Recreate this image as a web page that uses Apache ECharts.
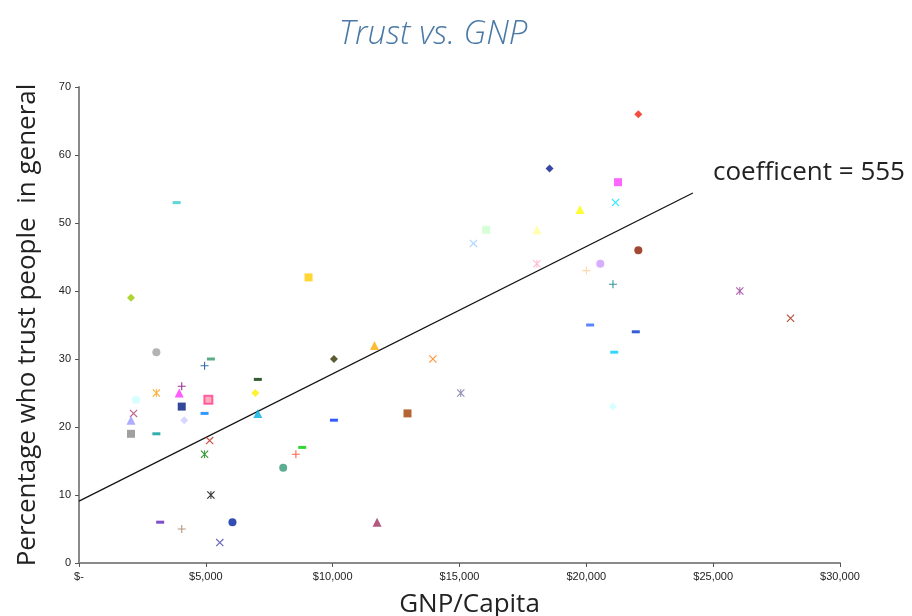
<!DOCTYPE html>
<html>
<head>
<meta charset="utf-8">
<title>Trust vs. GNP</title>
<script src="https://cdn.jsdelivr.net/npm/echarts@6/dist/echarts.min.js"></script>
<style>
  html, body { margin: 0; padding: 0; background: #fff; }
  #chart { width: 912px; height: 616px; }
</style>
</head>
<body>
<div id="chart"></div>
<script>
// GNP per capita ($) and trust (%) for each country marker
const gnp = [
  22050, 18550, 21250, 21150, 19750, 16050, 18050, 15550, 18050, 20000,
  20550, 22050, 21050, 20150, 21950, 21100, 21050, 26050, 28050,
  2050, 3850, 9050, 3050, 4950, 5200, 4050, 3050, 3950, 5100,
  7050, 6950, 2250, 4050, 4950, 7050, 2150, 2050, 4150, 2050,
  3050, 5150, 4950, 8550, 8800, 8050, 5200, 3200, 4050, 6050,
  5550, 10050, 10050, 11650, 13950, 15050, 12950, 11750
];
const trust = [
  66, 58, 56, 53, 52, 49, 49, 47, 44, 43,
  44, 46, 41, 35, 34, 31, 23, 40, 36,
  39, 53, 42, 31, 29, 30, 26, 25, 25, 24,
  27, 25, 24, 23, 22, 22, 22, 21, 21, 19,
  19, 18, 16, 16, 17, 14, 10, 6, 5, 6,
  3, 30, 21, 32, 30, 25, 22, 6
];
// marker shape and colour per point
const shapes = [
  'diamond', 'diamond', 'rect', 'x', 'triangle', 'rect', 'triangle', 'x', 'asterisk', 'plus',
  'circle', 'circle', 'plus', 'dash', 'dash', 'dash', 'diamond', 'asterisk', 'x',
  'diamond', 'dash', 'rect', 'circle', 'plus', 'dash', 'plus', 'asterisk', 'triangle', 'boxed',
  'dash', 'diamond', 'circle', 'rect', 'dash', 'triangle', 'x', 'triangle', 'diamond', 'rect',
  'dash', 'x', 'asterisk', 'plus', 'dash', 'circle', 'asterisk', 'dash', 'plus', 'circle',
  'x', 'diamond', 'dash', 'triangle', 'x', 'asterisk', 'rect', 'triangle'
];
const colors = [
  '#f0200f', '#0a1a8c', '#ff40ff', '#00e5ff', '#ffff00', '#ccffcc', '#ffff99', '#99ccff', '#ffaacc', '#ffcc99',
  '#cc99ff', '#8b1a00', '#008080', '#3366ff', '#0033cc', '#00ccff', '#ccffff', '#993399', '#a0200a',
  '#99cc00', '#33cccc', '#ffcc00', '#a0a0a0', '#004c99', '#339966', '#800080', '#ff9900', '#ff33ff', '#ff3f8f',
  '#003300', '#ffee00', '#ccffff', '#001a80', '#0080ff', '#00b0e0', '#b04070', '#9999ff', '#ccccff', '#888888',
  '#009999', '#c02010', '#008000', '#ff4020', '#00cc00', '#339977', '#000000', '#6020c0', '#a08060', '#0020a0',
  '#4040b0', '#333300', '#0033ff', '#ffaa00', '#ff7700', '#7070a0', '#a04000', '#a03060'
];
// fitted line end points
const fitX = [0, 24200];
const fitY = [9.1, 54.4];

const markers = {
  circle: { symbol: 'circle', size: 8 },
  rect: { symbol: 'rect', size: 8 },
  boxed: { symbol: 'rect', size: 8 },
  diamond: { symbol: 'diamond', size: 8 },
  triangle: { symbol: 'triangle', size: 9 },
  dash: { symbol: 'rect', size: [8, 3] },
  plus: { symbol: 'path://M4.3,0H5.7V4.3H10V5.7H5.7V10H4.3V5.7H0V4.3H4.3Z', size: 8 },
  x: { symbol: 'path://M0,1L1,0L10,9L9,10ZM9,0L10,1L1,10L0,9Z', size: 8 },
  asterisk: { symbol: 'path://M0,1L1,0L10,9L9,10ZM9,0L10,1L1,10L0,9ZM4.4,0H5.6V10H4.4Z', size: 8 }
};

const chart = echarts.init(document.getElementById('chart'));

const series = gnp.map((g, i) => {
  const m = markers[shapes[i]];
  return {
    type: 'scatter',
    data: [[g, trust[i]]],
    symbol: m.symbol,
    symbolSize: m.size,
    itemStyle: shapes[i] === 'boxed'
      ? { color: '#ff99aa', borderColor: colors[i], borderWidth: 2 }
      : { color: colors[i] },
    z: 3
  };
});

series.push({
  type: 'line',
  data: fitX.map((x, i) => [x, fitY[i]]),
  showSymbol: false,
  symbol: 'none',
  lineStyle: { color: '#111', width: 1.2 },
  z: 2
});

const option = {
  animation: false,
  backgroundColor: '#fff',
  grid: { left: 79, right: 72, top: 87, bottom: 53, outerBoundsMode: 'none', containLabel: false },
  xAxis: {
    type: 'value',
    min: 0,
    max: 30000,
    interval: 5000,
    name: 'GNP/Capita',
    nameLocation: 'middle',
    nameGap: 29,
    nameTextStyle: { fontFamily: 'Open Sans', fontSize: 26, color: '#222', padding: [0, 0, 0, 20] },
    splitLine: { show: false },
    axisLine: { lineStyle: { color: '#8a8a8a', width: 2 } },
    axisTick: { show: true, length: 4, lineStyle: { color: '#555' } },
    axisLabel: {
      fontFamily: 'Liberation Sans',
      fontSize: 11,
      color: '#222',
      margin: 8,
      formatter: v => (v === 0 ? '$-' : '$' + v.toLocaleString('en-US'))
    }
  },
  yAxis: {
    type: 'value',
    min: 0,
    max: 70,
    interval: 10,
    name: 'Percentage who trust people  in general',
    nameLocation: 'middle',
    nameGap: 38,
    nameTextStyle: { fontFamily: 'Open Sans', fontSize: 26, color: '#222' },
    splitLine: { show: false },
    axisLine: { show: true, lineStyle: { color: '#8a8a8a', width: 2 } },
    axisTick: { show: true, length: 4, lineStyle: { color: '#555' } },
    axisLabel: { fontFamily: 'Liberation Sans', fontSize: 11, color: '#222', margin: 8 }
  },
  graphic: [{
    type: 'text',
    x: 433,
    y: 18,
    style: {
      text: 'Trust vs. GNP',
      align: 'center',
      fontFamily: 'Open Sans',
      fontStyle: 'italic',
      fontWeight: 300,
      fontSize: 33,
      fill: '#4a79a5'
    }
  }, {
    type: 'text',
    x: 713,
    y: 160,
    style: {
      text: 'coefficent = 555',
      fontFamily: 'Open Sans',
      fontSize: 26,
      fill: '#222'
    }
  }],
  series: series
};

chart.setOption(option);
</script>
</body>
</html>
